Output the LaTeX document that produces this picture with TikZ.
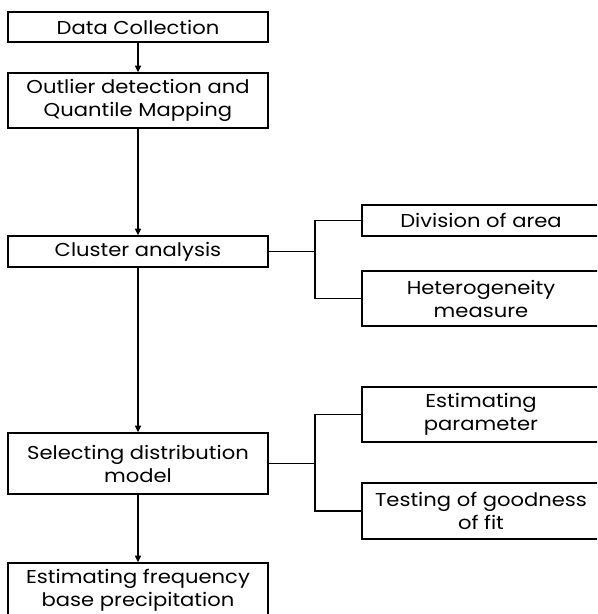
\documentclass[tikz,border=0pt]{standalone}
\usepackage{fontspec}
\setmainfont{Poppins}[FakeStretch=1.13]
\usetikzlibrary{arrows.meta}
\begin{document}
\begin{tikzpicture}[x=0.75pt,y=-0.75pt,
  box/.style={draw, line width=1.1pt, inner sep=0pt, align=center, font=\fontsize{14}{17.25}\selectfont},
  conn/.style={line width=1.1pt},
  arr/.style={line width=1.1pt, -{Triangle[length=5pt,width=4.5pt]}}]
\useasboundingbox (0,0) rectangle (597,614);
\clip (0,0) rectangle (597,614);
\node[box, minimum width=195pt, minimum height=22.5pt] (dc) at (138,27) {Data Collection};
\node[box, minimum width=195pt, minimum height=41.25pt] (od) at (138,100.5) {Outlier detection and\\Quantile Mapping};
\node[box, minimum width=195pt, minimum height=23.25pt] (ca) at (138,251.5) {Cluster analysis};
\node[box, minimum width=178.5pt, minimum height=23.25pt] (da) at (481,220.5) {Division of area};
\node[box, minimum width=178.5pt, minimum height=41.25pt] (hm) at (481,298.5) {Heterogeneity\\measure};
\node[box, minimum width=195pt, minimum height=45.75pt] (sd) at (138,463.5) {Selecting distribution\\model};
\node[box, minimum width=178.5pt, minimum height=41.25pt] (ep) at (481,414.5) {Estimating\\parameter};
\node[box, minimum width=178.5pt, minimum height=42pt] (tg) at (481,511) {Testing of goodness\\of fit};
\node[box, minimum width=195pt, minimum height=40.5pt] (ef) at (138,590) {Estimating frequency\\base precipitation};
\coordinate (j1) at (315,251.5);
\coordinate (j2) at (315,463.5);
\draw[arr] (dc) -- (od);
\draw[arr] (od) -- (ca);
\draw[arr] (ca) -- (sd);
\draw[arr] (sd) -- (ef);
\draw[conn] (ca.east) -- (j1);
\draw[conn] (da.west) -| (j1) |- (hm.west);
\draw[conn] (sd.east) -- (j2);
\draw[conn] (ep.west) -| (j2) |- (tg.west);
\end{tikzpicture}
\end{document}
